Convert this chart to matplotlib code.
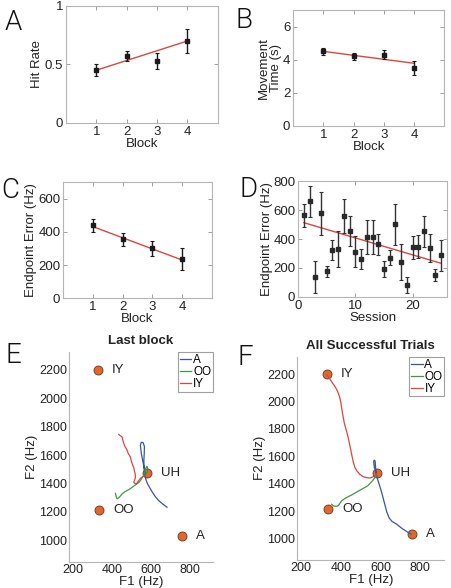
import numpy as np
import matplotlib
matplotlib.use("Agg")
import matplotlib.pyplot as plt

plt.rcParams['font.family'] = ['Liberation Sans', 'DejaVu Sans']

# ---- data ----
blocks = [1, 2, 3, 4]

hit_rate = [0.45, 0.57, 0.53, 0.70]
hit_rate_err = [0.05, 0.045, 0.07, 0.10]
hit_rate_fit = [0.45, 0.70]

move_time = [4.5, 4.2, 4.3, 3.5]
move_time_err = [0.2, 0.2, 0.28, 0.42]
move_time_fit = [4.5, 3.78]

endpoint_err_block = [440, 355, 300, 235]
endpoint_err_block_sd = [40, 40, 45, 65]
endpoint_err_block_fit = [432, 230]

sessions = list(range(1, 26))
endpoint_err_session = [565, 660, 136, 577, 177, 326, 331, 559, 455, 313,
                        264, 414, 414, 363, 193, 271, 503, 239, 85, 343,
                        347, 455, 338, 152, 287]
endpoint_err_session_sd = [80, 105, 110, 150, 40, 70, 125, 120, 105, 105,
                           70, 118, 118, 70, 52, 50, 142, 124, 55, 80,
                           80, 107, 100, 42, 105]
endpoint_err_session_fit = [513, 232]

vowel_names = ['IY', 'OO', 'A', 'UH']
vowel_f1 = [330, 335, 760, 582]
vowel_f2 = [2200, 1215, 1030, 1475]

# last block trajectories (F1, F2)
last_a_f1 = [573, 562, 552, 547, 552, 561, 568, 567, 565, 566, 569, 575, 583, 595, 610, 625, 641, 662, 684]
last_a_f2 = [1468, 1540, 1610, 1670, 1690, 1688, 1660, 1610, 1560, 1510, 1468, 1430, 1400, 1370, 1335, 1305, 1279, 1255, 1232]
last_oo_f1 = [419, 424, 428, 435, 445, 453, 466, 479, 492, 505, 518, 530, 540, 547, 556, 564, 570, 573, 581, 586, 583, 577]
last_oo_f2 = [1330, 1300, 1292, 1298, 1312, 1326, 1340, 1350, 1360, 1373, 1386, 1397, 1408, 1420, 1440, 1456, 1480, 1503, 1520, 1500, 1480, 1468]
last_iy_f1 = [436, 445, 453, 458, 462, 468, 475, 479, 485, 490, 496, 500, 505, 510, 513, 516, 520, 522, 518, 513, 518, 527, 533, 539, 547, 556, 565, 573]
last_iy_f2 = [1745, 1735, 1728, 1700, 1681, 1660, 1645, 1633, 1610, 1600, 1586, 1560, 1540, 1520, 1515, 1490, 1470, 1444, 1425, 1408, 1400, 1397, 1410, 1420, 1435, 1444, 1452, 1458]

# all successful trials trajectories (F1, F2)
all_a_f1 = [578, 568, 565, 567, 572, 574, 576, 583, 595, 605, 618, 631, 643, 657, 680, 709, 732, 753]
all_a_f2 = [1480, 1520, 1560, 1572, 1566, 1530, 1490, 1440, 1385, 1337, 1265, 1193, 1150, 1125, 1105, 1072, 1050, 1032]
all_oo_f1 = [353, 362, 370, 380, 388, 397, 405, 418, 431, 457, 483, 510, 536, 558, 579]
all_oo_f2 = [1250, 1238, 1236, 1236, 1241, 1262, 1277, 1290, 1301, 1320, 1342, 1364, 1386, 1420, 1458]
all_iy_f1 = [330, 341, 355, 370, 383, 393, 400, 405, 411, 417, 426, 435, 442, 449, 456, 463, 470, 480, 494, 510, 527, 544, 562, 579]
all_iy_f2 = [2195, 2169, 2140, 2109, 2075, 2036, 1990, 1940, 1890, 1843, 1795, 1747, 1700, 1651, 1600, 1554, 1520, 1494, 1470, 1453, 1445, 1441, 1450, 1470]

RED = '#d9473f'
BLUE = '#3a55a0'
GREEN = '#3d9a3d'
SPINE = '#b5b5b5'
TEXT = '#222222'

fig = plt.figure(figsize=(4.51, 5.88), dpi=100)


def style_box(ax):
    for s in ax.spines.values():
        s.set_color(SPINE)
        s.set_linewidth(0.8)
    ax.tick_params(direction='in', length=3, width=0.6, color='#909090',
                   labelsize=9.5, labelcolor=TEXT, top=True, right=True, pad=2)


def block_panel(rect, y, yerr, fit, ylim, yticks, ylabel, yticklabels=None):
    ax = fig.add_axes(rect)
    ax.errorbar(blocks, y, yerr=yerr, fmt='s', color='#1a1a1a', ms=2.5,
                elinewidth=1.0, capsize=1.5, capthick=0.8, zorder=3)
    ax.plot([blocks[0], blocks[-1]], fit, color=RED, lw=1.0, zorder=2)
    ax.set_xlim(0, 5)
    ax.set_ylim(*ylim)
    ax.set_xticks(blocks)
    ax.set_yticks(yticks)
    if yticklabels is not None:
        ax.set_yticklabels(yticklabels)
    ax.set_xlabel('Block', fontsize=9.5, color=TEXT, labelpad=0)
    ax.set_ylabel(ylabel, fontsize=9.5, color=TEXT, labelpad=1, linespacing=0.95)
    style_box(ax)
    return ax


# A
block_panel([0.146, 0.791, 0.337, 0.199], hit_rate, hit_rate_err, hit_rate_fit,
            (0, 1), [0, 0.5, 1], 'Hit Rate', ['0', '0.5', '1'])
# B
block_panel([0.650, 0.786, 0.335, 0.197], move_time, move_time_err, move_time_fit,
            (0, 7), [0, 2, 4, 6], 'Movement\nTime (s)')
# C
block_panel([0.140, 0.493, 0.330, 0.197], endpoint_err_block, endpoint_err_block_sd,
            endpoint_err_block_fit, (0, 700), [0, 200, 400, 600], 'Endpoint Error (Hz)')

# D
axd = fig.add_axes([0.661, 0.495, 0.330, 0.197])
axd.errorbar(sessions, endpoint_err_session, yerr=endpoint_err_session_sd, fmt='s',
             color='#2a2a2a', ecolor='#333333', ms=2.5, elinewidth=1.0, capsize=1.5,
             capthick=0.8, zorder=3)
axd.plot([sessions[0], sessions[-1]], endpoint_err_session_fit, color=RED, lw=1.0, zorder=2)
axd.set_xlim(0, 26)
axd.set_ylim(0, 800)
axd.set_xticks([0, 10, 20])
axd.set_yticks([0, 200, 400, 600, 800])
axd.set_xlabel('Session', fontsize=9.5, color=TEXT, labelpad=0)
axd.set_ylabel('Endpoint Error (Hz)', fontsize=9.5, color=TEXT, labelpad=0)
style_box(axd)


def vowel_panel(rect, title, trajs):
    ax = fig.add_axes(rect)
    ax.scatter(vowel_f1, vowel_f2, s=42, color='#e2672c', edgecolor='#6a3a1a',
               linewidth=0.6, zorder=2)
    for (f1, f2, c, lab) in trajs:
        ax.plot(f1, f2, color=c, lw=0.9, label=lab, zorder=3)
    for name, x, y in zip(vowel_names, vowel_f1, vowel_f2):
        ax.annotate(name, (x, y), xytext=(10, 0), textcoords='offset points',
                    va='center', ha='left', fontsize=9.5, color=TEXT)
    ax.set_xlim(180, 920)
    ax.set_ylim(845, 2325)
    ax.set_xticks([200, 400, 600, 800])
    ax.set_yticks(np.arange(1000, 2201, 200))
    ax.set_xlabel('F1 (Hz)', fontsize=9.5, color=TEXT, labelpad=0)
    ax.set_ylabel('F2 (Hz)', fontsize=9.5, color=TEXT, labelpad=1)
    ax.set_title(title, fontsize=9.5, fontweight='bold', color=TEXT, pad=6)
    for side in ['top', 'right']:
        ax.spines[side].set_visible(False)
    for side in ['left', 'bottom']:
        ax.spines[side].set_color(SPINE)
        ax.spines[side].set_linewidth(0.8)
    ax.tick_params(direction='in', length=0, labelsize=9, labelcolor=TEXT, pad=1.5)
    leg = ax.legend(loc='upper right', fontsize=8.5, handlelength=1.0,
                    handletextpad=0.15, borderpad=0.15, labelspacing=0.0,
                    borderaxespad=0.0, fancybox=False, framealpha=1)
    leg.get_frame().set_edgecolor('#a0a0a0')
    leg.get_frame().set_linewidth(0.8)
    return ax


vowel_panel([0.153, 0.044, 0.319, 0.357], 'Last block',
            [(last_a_f1, last_a_f2, BLUE, 'A'),
             (last_oo_f1, last_oo_f2, GREEN, 'OO'),
             (last_iy_f1, last_iy_f2, RED, 'IY')])
vowel_panel([0.659, 0.048, 0.326, 0.345], 'All Successful Trials',
            [(all_a_f1, all_a_f2, BLUE, 'A'),
             (all_oo_f1, all_oo_f2, GREEN, 'OO'),
             (all_iy_f1, all_iy_f2, RED, 'IY')])

# panel letters (pixel positions of the baseline from the reference)
letters = [('A', 5, 30), ('B', 236, 28), ('C', 1, 198), ('D', 239, 197),
           ('E', 5, 363), ('F', 237, 365)]
for lab, px, py in letters:
    fig.text(px / 451, 1 - py / 588, lab, fontsize=20, fontweight=300,
             family=['Roboto', 'DejaVu Sans'], color='#111111', ha='left', va='baseline')

fig.savefig('out.png', dpi=100)
